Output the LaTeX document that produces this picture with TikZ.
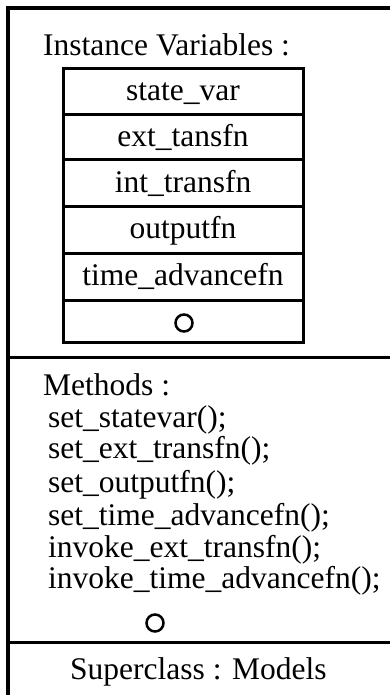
\documentclass[tikz,border=0pt]{standalone}
\usepackage{fontspec}
\setmainfont{Liberation Serif}
\begin{document}
\begin{tikzpicture}[x=1pt,y=-1pt,
  every node/.style={font=\fontsize{31.5}{37}\selectfont},
  label/.style={inner sep=0pt, anchor=base west},
  cell/.style={draw, line width=3pt, minimum width=240pt, inner sep=0pt,
               text height=21pt, text depth=3pt},
  frame/.style={line width=4pt},
  divider/.style={line width=3pt},
  nil/.style={circle, draw, line width=2.5pt, minimum size=17pt, inner sep=0pt}]
  \useasboundingbox (0,0) rectangle (390,695);
  \fill[white] (0,0) rectangle (390,695);

  % class frame: left and top edges, and the dividers between its parts
  \coordinate (tl) at (8,8);
  \coordinate (tr) at (390,8);
  \coordinate (bl) at (8,695);
  \coordinate (d1l) at (8,357);
  \coordinate (d1r) at (390,357);
  \coordinate (d2l) at (8,642);
  \coordinate (d2r) at (390,642);
  \draw[frame] (bl) -- (tl) -- (tr);
  \draw[divider] (d1l) -- (d1r);
  \draw[divider] (d2l) -- (d2r);

  % instance variables
  \node[label] (ivtitle) at (43,56) {Instance Variables :};
  \node[cell, minimum height=46pt] (r1) at (183,92)    {state\_var};
  \node[cell, minimum height=45pt] (r2) at (183,137.5) {ext\_tansfn};
  \node[cell, minimum height=46pt] (r3) at (183,183)   {int\_transfn};
  \node[cell, minimum height=47pt] (r4) at (183,229.5) {outputfn};
  \node[cell, minimum height=47pt] (r5) at (183,276.5) {time\_advancefn};
  \node[cell, minimum height=42pt] (r6) at (183,321)   {};
  \node[nil] (o1) at (184,323) {};

  % methods
  \node[label] (mtitle) at (43,395) {Methods :};
  \node[label] (m1) at (48,427) {set\_statevar();};
  \node[label] (m2) at (48,458) {set\_ext\_transfn();};
  \node[label] (m3) at (48,492) {set\_outputfn();};
  \node[label] (m4) at (48,525) {set\_time\_advancefn();};
  \node[label] (m5) at (48,557) {invoke\_ext\_transfn();};
  \node[label] (m6) at (48,588) {invoke\_time\_advancefn();};
  \node[nil] (o2) at (155,623) {};

  % superclass
  \node[label] (super) at (70,679) {Superclass : Models};
\end{tikzpicture}
\end{document}
